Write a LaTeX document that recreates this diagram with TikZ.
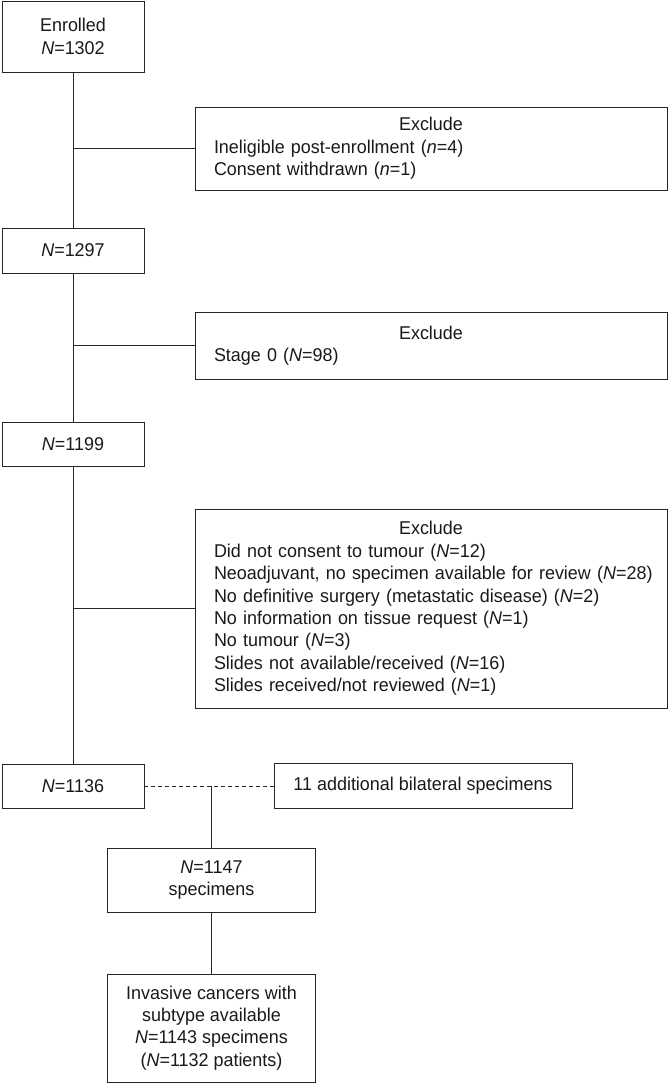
\documentclass[tikz,border=0pt]{standalone}
\usepackage{fontspec}
\setmainfont[FakeStretch=0.97]{Liberation Sans}
\usetikzlibrary{positioning, calc}

\newcommand{\nN}{\textit{N}}
\newcommand{\nn}{\textit{n}}
\newcommand{\exhead}{\makebox[\linewidth]{Exclude}}

\begin{document}
\begin{tikzpicture}[x=1pt, y=-1pt,
    every node/.style={text=black!90, font=\fontsize{18.5}{22.4}\selectfont},
    box/.style={draw=black!85, line width=0.8pt, minimum width=142pt, minimum height=45pt,
      inner sep=0pt, align=center},
    exbox/.style={draw=black!85, line width=0.8pt, text width=434pt, inner xsep=19pt,
      inner ysep=0pt, align=left},
    link/.style={draw=black!85, line width=0.8pt}]
    \useasboundingbox (0,0) rectangle (668,1083);

    % Main column
    \node[box, minimum height=71pt] (enrolled) at (73,36.5) {Enrolled\\\nN=1302};
    \node[box] (nA) at (73,250.5) {\nN=1297};
    \node[box, minimum height=44pt] (nB) at (73,444) {\nN=1199};
    \node[box, minimum height=44pt] (nC) at (73,786) {\nN=1136};

    % Exclusions
    \node[exbox, minimum height=83pt] (exclA) at (431,148.5) {\exhead\\
      Ineligible post-enrollment (\nn=4)\\
      Consent withdrawn (\nn=1)};
    \node[exbox, minimum height=67pt] (exclB) at (431,345.5) {\exhead\\
      Stage 0 (\nN=98)};
    \node[exbox, minimum height=199pt] (exclC) at (431,608.5) {\exhead\\
      Did not consent to tumour (\nN=12)\\
      \mbox{Neoadjuvant, no specimen available for review (\nN=28)}\\
      No definitive surgery (metastatic disease) (\nN=2)\\
      No information on tissue request (\nN=1)\\
      No tumour (\nN=3)\\
      Slides not available/received (\nN=16)\\
      Slides received/not reviewed (\nN=1)};

    % Bilateral
    \node[box, minimum width=298pt] (extra) at (423,786) {11 additional bilateral specimens};
    \coordinate (join) at (211.5,786);
    \node[box, minimum width=208pt, minimum height=64pt] (spec) at (211.5,880) {\nN=1147\\specimens};
    \node[box, minimum width=208pt, minimum height=108pt] (inv) at (211.5,1028)
      {Invasive cancers with\\subtype available\\\nN=1143 specimens\\(\nN=1132 patients)};

    \draw[link] (enrolled) -- (nA);
    \draw[link] (nA) -- (nB);
    \draw[link] (nB) -- (nC);
    \draw[link] (exclA.west) -- (exclA.west -| enrolled.south);
    \draw[link] (exclB.west) -- (exclB.west -| enrolled.south);
    \draw[link] (exclC.west) -- (exclC.west -| enrolled.south);

    \draw[link, dash pattern=on 4pt off 3pt] (nC) -- (extra);
    \draw[link] (join) -- (spec);
    \draw[link] (spec) -- (inv);
  \end{tikzpicture}
\end{document}
